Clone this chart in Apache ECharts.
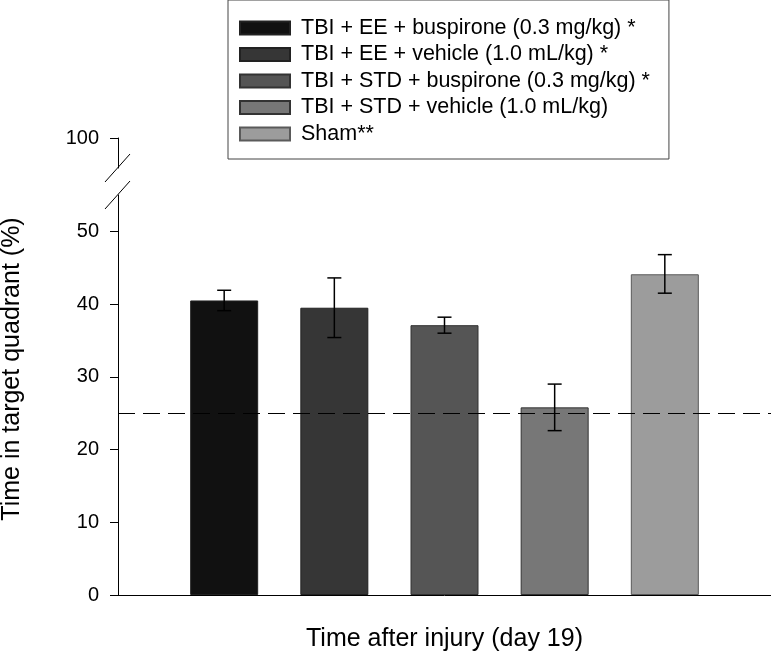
<!DOCTYPE html>
<html>
<head>
<meta charset="utf-8">
<script src="https://cdn.jsdelivr.net/npm/echarts@6/dist/echarts.min.js"></script>
<style>
    html, body { margin: 0; padding: 0; background: #fff; }
    #main { width: 771px; height: 656px; }
</style>
</head>
<body>
<div id="main"></div>
<script>
// data (Morris water maze probe, day 19)
var groups = [
    'TBI + EE + buspirone (0.3 mg/kg) *',
    'TBI + EE + vehicle (1.0 mL/kg) *',
    'TBI + STD + buspirone (0.3 mg/kg) *',
    'TBI + STD + vehicle (1.0 mL/kg)',
    'Sham**'
];
var means = [40.5, 39.5, 37.1, 25.8, 44.1];
var errLow = [39.1, 35.4, 36.0, 22.6, 41.5];
var errHigh = [41.9, 43.6, 38.2, 29.0, 46.8];
var chanceLevel = [25];
var lowerTicks = [0, 10, 20, 30, 40, 50];
var upperTicks = [100];

(function () {
    var FONT = '"Liberation Sans", Arial, sans-serif';
    var barColors = ['#111111', '#363636', '#555555', '#777777', '#9c9c9c'];
    var barBorders = ['#222222', '#222222', '#333333', '#333333', '#5a5a5a'];
    var BAR_W = 68, BAR_GAP = '62%';
    var LEFT = 118;
    var UP_TOP = 138, UP_H = 30;
    var LOW_TOP = 195, LOW_H = 400;

    var myChart = echarts.init(document.getElementById('main'));

    var series = groups.map(function (name, i) {
        return {
            name: name,
            type: 'bar',
            xAxisIndex: 1,
            yAxisIndex: 1,
            barWidth: BAR_W,
            barGap: BAR_GAP,
            data: [means[i]],
            itemStyle: { color: barColors[i], borderColor: barBorders[i], borderWidth: 1 }
        };
    });

    // error bars (and the dashed 25% line on top of everything)
    series.push({
        type: 'custom',
        xAxisIndex: 1,
        yAxisIndex: 1,
        z: 10,
        silent: true,
        data: groups.map(function (g, i) { return [0, errLow[i], errHigh[i], i]; }),
        encode: { x: 0, y: [1, 2] },
        renderItem: function (params, api) {
            var layout = api.barLayout({ barWidth: BAR_W, barGap: BAR_GAP, count: groups.length });
            var idx = api.value(3);
            var lo = api.coord([api.value(0), api.value(1)]);
            var hi = api.coord([api.value(0), api.value(2)]);
            var x = lo[0] + layout[idx].offsetCenter;
            var cap = 7;
            var style = { stroke: '#000', lineWidth: 1.5 };
            return {
                type: 'group',
                children: [
                    { type: 'line', shape: { x1: x, y1: hi[1], x2: x, y2: lo[1] }, style: style },
                    { type: 'line', shape: { x1: x - cap, y1: hi[1], x2: x + cap, y2: hi[1] }, style: style },
                    { type: 'line', shape: { x1: x - cap, y1: lo[1], x2: x + cap, y2: lo[1] }, style: style }
                ]
            };
        },
        markLine: {
            silent: true,
            symbol: 'none',
            label: { show: false },
            lineStyle: { color: '#000', width: 1, type: [17, 8] },
            data: chanceLevel.map(function (v) { return { yAxis: v }; })
        }
    });

    var axisLabelStyle = { fontSize: 20, color: '#000', fontFamily: FONT, margin: 19 };
    var axisTickStyle = { show: true, length: 8, lineStyle: { color: '#000' } };

    var option = {
        animation: false,
        textStyle: { fontFamily: FONT },
        legend: {
            orient: 'vertical',
            left: 228,
            top: 0,
            data: groups,
            icon: 'rect',
            itemWidth: 50,
            itemHeight: 13,
            itemGap: 4.5,
            padding: [17, 19, 14, 11],
            borderColor: '#444',
            borderWidth: 1,
            backgroundColor: '#fff',
            selectedMode: false,
            textStyle: { fontSize: 21.5, color: '#000', fontFamily: FONT, padding: [0, 0, 0, 6] }
        },
        grid: [
            { left: LEFT, right: 0, top: UP_TOP, height: UP_H, outerBoundsMode: 'none', containLabel: false },
            { left: LEFT, right: 0, top: LOW_TOP, height: LOW_H, outerBoundsMode: 'none', containLabel: false }
        ],
        xAxis: [
            { gridIndex: 0, type: 'category', data: [''], show: false },
            {
                gridIndex: 1,
                type: 'category',
                data: [''],
                axisLine: { lineStyle: { color: '#000', width: 1 } },
                axisTick: { show: false },
                axisLabel: { show: false },
                name: 'Time after injury (day 19)',
                nameLocation: 'middle',
                nameGap: 32,
                nameTextStyle: { fontSize: 25, color: '#000', fontFamily: FONT }
            }
        ],
        yAxis: [
            {
                gridIndex: 0,
                type: 'value',
                min: 95,
                max: 100,
                axisLine: { show: true, lineStyle: { color: '#000', width: 1 } },
                axisTick: Object.assign({ customValues: upperTicks }, axisTickStyle),
                axisLabel: Object.assign({ customValues: upperTicks }, axisLabelStyle),
                splitLine: { show: false }
            },
            {
                gridIndex: 1,
                type: 'value',
                min: 0,
                max: 55,
                interval: 10,
                axisLine: { show: true, lineStyle: { color: '#000', width: 1 } },
                axisTick: Object.assign({ customValues: lowerTicks }, axisTickStyle),
                axisLabel: Object.assign({ customValues: lowerTicks }, axisLabelStyle),
                splitLine: { show: false },
                name: 'Time in target quadrant (%)',
                nameLocation: 'middle',
                nameGap: 93,
                nameTextStyle: { fontSize: 25, color: '#000', fontFamily: FONT, padding: [0, 0, 0, 52] }
            }
        ],
        // the two break marks on the y axis
        graphic: [UP_TOP + UP_H, LOW_TOP].map(function (y) {
            return {
                type: 'line',
                silent: true,
                shape: { x1: LEFT - 13, y1: y + 14, x2: LEFT + 12, y2: y - 14 },
                style: { stroke: '#000', lineWidth: 1 }
            };
        }),
        series: series
    };

    myChart.setOption(option);
    window.addEventListener('resize', function () {
        myChart.resize();
    });
})();
</script>
</body>
</html>
